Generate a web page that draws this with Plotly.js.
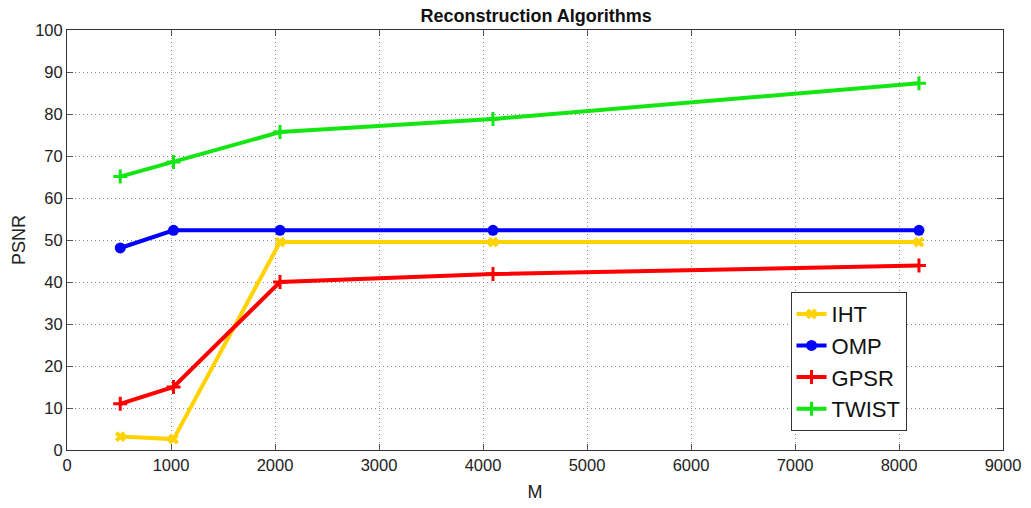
<!DOCTYPE html>
<html>
<head>
<meta charset="utf-8">
<script src="https://cdn.plot.ly/plotly-3.0.1.min.js"></script>
<style>
  html, body { margin: 0; padding: 0; background: #fff; }
  #chart { width: 1031px; height: 508px; }
</style>
</head>
<body>
<div id="chart"></div>
<script>
// Number of measurements M
const M = [512, 1024, 2048, 4096, 8192];

// PSNR per reconstruction algorithm
const psnrIHT   = [3.2, 2.6, 49.5, 49.5, 49.5];
const psnrOMP   = [48.1, 52.3, 52.3, 52.3, 52.3];
const psnrGPSR  = [11.0, 15.0, 40.0, 41.9, 43.9];
const psnrTWIST = [65.1, 68.6, 75.7, 78.8, 87.3];

const seriesNames = ['IHT', 'OMP', 'GPSR', 'TWIST'];

function line(name, y, color, symbol, size, mlw) {
  return {
    x: M, y: y, name: name, type: 'scatter', mode: 'lines+markers',
    line: { color: color, width: 4 },
    marker: { symbol: symbol, size: size, color: color, line: { color: color, width: mlw } }
  };
}

const traces = [
  line(seriesNames[0], psnrIHT,   '#FFD200', 'x-thin', 8, 4),
  line(seriesNames[1], psnrOMP,   '#0000FF', 'circle', 11, 0),
  line(seriesNames[2], psnrGPSR,  '#FF0000', 'cross-thin', 10, 3),
  line(seriesNames[3], psnrTWIST, '#14E614', 'cross-thin', 10, 3)
];

const FONT = 'Liberation Sans, Arial, sans-serif';

const axisCommon = {
  showline: true, mirror: 'ticks', linecolor: '#333', linewidth: 1,
  ticks: 'inside', ticklen: 6, tickcolor: '#555',
  showgrid: true, gridcolor: '#8a8a8a', griddash: '1px,3px', gridwidth: 1,
  zeroline: false,
  tickfont: { family: FONT, size: 16.5, color: '#222' }
};

const layout = {
  width: 1031, height: 508,
  margin: { l: 67, r: 28, t: 30, b: 58 },
  paper_bgcolor: '#fff', plot_bgcolor: '#fff',
  title: {
    text: '<b>Reconstruction Algorithms</b>',
    font: { family: FONT, size: 18, color: '#111' },
    x: 0.52, xanchor: 'center', y: 0.969, yanchor: 'middle'
  },
  xaxis: Object.assign({}, axisCommon, {
    range: [0, 9000], tickvals: [0,1000,2000,3000,4000,5000,6000,7000,8000,9000],
    title: { text: 'M', font: { family: FONT, size: 18, color: '#222' }, standoff: 12 }
  }),
  yaxis: Object.assign({}, axisCommon, {
    range: [0, 100], tickvals: [0,10,20,30,40,50,60,70,80,90,100],
    title: { text: 'PSNR', font: { family: FONT, size: 18, color: '#222' }, standoff: 4 }
  }),
  showlegend: true,
  legend: {
    x: 0.773, y: 0.376, xanchor: 'left', yanchor: 'top',
    bgcolor: '#fff', bordercolor: '#333', borderwidth: 1,
    font: { family: FONT, size: 22, color: '#111' },
    itemwidth: 30, tracegroupgap: 0
  }
};

Plotly.newPlot('chart', traces, layout, { displayModeBar: false, staticPlot: true });
</script>
</body>
</html>
